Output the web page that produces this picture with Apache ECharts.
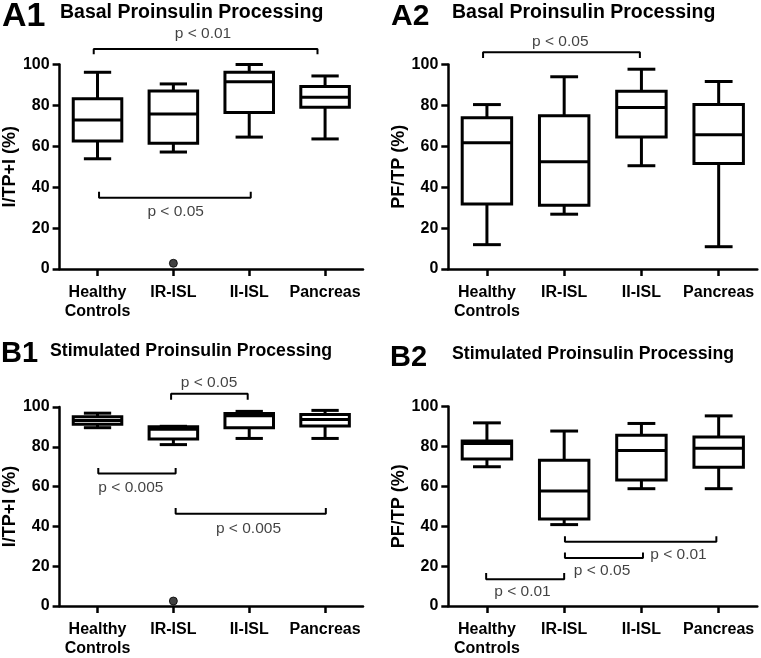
<!DOCTYPE html>
<html><head><meta charset="utf-8">
<script src="https://cdn.jsdelivr.net/npm/echarts@6/dist/echarts.min.js"></script>
<style>html,body{margin:0;padding:0;background:#fff}#c{width:761px;height:658px}</style>
</head><body><div id="c"></div>
<script>
const categories = ['Healthy\nControls', 'IR-ISL', 'II-ISL', 'Pancreas'];
const yTicks = [0, 20, 40, 60, 80, 100];
// each box: [min, Q1, median, Q3, max]
const a1Boxes = [[53.9, 62.6, 72.9, 83.3, 96.2], [57.2, 61.5, 75.8, 87.0, 90.5], [64.5, 76.5, 91.6, 96.2, 100], [63.6, 79.1, 84.0, 89.3, 94.4]];
const a2Boxes = [[11.9, 31.8, 61.7, 74.0, 80.4], [26.8, 31.2, 52.4, 75.0, 94.0], [50.5, 64.6, 79.0, 86.9, 97.7], [10.9, 51.6, 65.6, 80.5, 91.7]];
const b1Boxes = [[89.6, 91.3, 93.2, 95.1, 96.9], [81.1, 83.9, 88.8, 90.1, 90.3], [84.2, 89.6, 95.6, 96.7, 97.8], [84.2, 90.4, 93.7, 96.2, 98.3]];
const b2Boxes = [[69.8, 73.7, 81.4, 82.7, 91.8], [40.8, 43.6, 57.7, 73.0, 87.7], [58.8, 63.1, 77.9, 85.6, 91.5], [58.8, 69.6, 79.1, 84.7, 95.3]];
const a1Outliers = [[1, 2.8]];
const a2Outliers = [];
const b1Outliers = [[1, 2.5]];
const b2Outliers = [];
// significance brackets: [from, to, level, tick end, label, label x, label y]
const a1Brackets = [[-0.05, 2.9, 107.6, 105, 'p < 0.01', 1.39, 115], [0.02, 2.02, 34.9, 37.8, 'p < 0.05', 1.03, 27.8]];
const a2Brackets = [[-0.05, 1.98, 106, 103.2, 'p < 0.05', 0.95, 111]];
const b1Brackets = [[0.97, 1.98, 106.6, 103.6, 'p < 0.05', 1.47, 112.3], [0.01, 1.03, 66.6, 69.4, 'p < 0.005', 0.44, 59.2], [1.03, 3.01, 46.4, 49.2, 'p < 0.005', 1.99, 39]];
const b2Brackets = [[1.01, 2.97, 32.2, 35, 'p < 0.01', 2.48, 25.5], [1.01, 2.02, 24, 26.8, 'p < 0.05', 1.49, 17.8], [-0.01, 1.0, 13.4, 16.5, 'p < 0.01', 0.46, 7.2]];

const FONT = '"Liberation Sans", Arial, Helvetica, sans-serif';
const INK = '#000';

function renderBox(params, api) {
  const idx = api.value(0);
  const bw = api.size([1, 0])[0];
  const half = bw * 0.32, cap = bw * 0.18;
  const p = v => api.coord([idx, v]);
  const pMin = p(api.value(1)), pQ1 = p(api.value(2)), pMed = p(api.value(3)), pQ3 = p(api.value(4)), pMax = p(api.value(5));
  const x = pMin[0];
  const st = { stroke: INK, lineWidth: 3, fill: null };
  return {
    type: 'group', children: [
      { type: 'line', shape: { x1: x, y1: pMax[1], x2: x, y2: pQ3[1] }, style: st },
      { type: 'line', shape: { x1: x, y1: pQ1[1], x2: x, y2: pMin[1] }, style: st },
      { type: 'line', shape: { x1: x - cap, y1: pMax[1], x2: x + cap, y2: pMax[1] }, style: st },
      { type: 'line', shape: { x1: x - cap, y1: pMin[1], x2: x + cap, y2: pMin[1] }, style: st },
      { type: 'rect', shape: { x: x - half, y: pQ3[1], width: 2 * half, height: pQ1[1] - pQ3[1] }, style: { stroke: INK, lineWidth: 3, fill: '#fff' } },
      { type: 'line', shape: { x1: x - half, y1: pMed[1], x2: x + half, y2: pMed[1] }, style: st }
    ]
  };
}

const panels = [
  { grid: { left: 57.5, top: 64.5, width: 305.5, height: 204.5 }, boxes: a1Boxes, outliers: a1Outliers, brackets: a1Brackets, yName: 'I/TP+I (%)', nameGap: 40 },
  { grid: { left: 448.3, top: 64.5, width: 309, height: 204.5 }, boxes: a2Boxes, outliers: a2Outliers, brackets: a2Brackets, yName: 'PF/TP (%)', nameGap: 38 },
  { grid: { left: 57.5, top: 407, width: 305.5, height: 203 }, boxes: b1Boxes, outliers: b1Outliers, brackets: b1Brackets, yName: 'I/TP+I (%)', nameGap: 40 },
  { grid: { left: 448.3, top: 406.5, width: 309, height: 203.5 }, boxes: b2Boxes, outliers: b2Outliers, brackets: b2Brackets, yName: 'PF/TP (%)', nameGap: 38 }
];

const option = {
  animation: false,
  backgroundColor: '#fff',
  textStyle: { fontFamily: FONT },
  title: [
    { text: 'A1', left: 2, top: 0, padding: 0, textStyle: { fontSize: 34, fontWeight: 'bold', color: INK, fontFamily: FONT } },
    { text: 'Basal Proinsulin Processing', left: 60, top: 3, padding: 0, textStyle: { fontSize: 19.5, fontWeight: 'bold', color: INK, fontFamily: FONT } },
    { text: 'A2', left: 391, top: 2, padding: 0, textStyle: { fontSize: 30, fontWeight: 'bold', color: INK, fontFamily: FONT } },
    { text: 'Basal Proinsulin Processing', left: 452, top: 3, padding: 0, textStyle: { fontSize: 19.5, fontWeight: 'bold', color: INK, fontFamily: FONT } },
    { text: 'B1', left: 1, top: 339, padding: 0, textStyle: { fontSize: 29, fontWeight: 'bold', color: INK, fontFamily: FONT } },
    { text: 'Stimulated Proinsulin Processing', left: 50, top: 342, padding: 0, textStyle: { fontSize: 17.7, fontWeight: 'bold', color: INK, fontFamily: FONT } },
    { text: 'B2', left: 390, top: 343, padding: 0, textStyle: { fontSize: 29, fontWeight: 'bold', color: INK, fontFamily: FONT } },
    { text: 'Stimulated Proinsulin Processing', left: 452, top: 345, padding: 0, textStyle: { fontSize: 17.7, fontWeight: 'bold', color: INK, fontFamily: FONT } }
  ],
  grid: [], xAxis: [], yAxis: [], series: []
};

panels.forEach((pn, i) => {
  option.grid.push(Object.assign({ containLabel: false }, pn.grid));
  option.xAxis.push({
    type: 'category', gridIndex: i, data: categories,
    axisLine: { show: true, onZero: false, lineStyle: { color: INK, width: 2.5 } },
    axisTick: { show: true, alignWithLabel: true, length: 7, lineStyle: { color: INK, width: 2.5 } },
    axisLabel: { interval: 0, margin: 14, fontSize: 16, fontWeight: 'bold', color: INK, lineHeight: 19, fontFamily: FONT },
    splitLine: { show: false }
  });
  option.xAxis.push({ type: 'value', gridIndex: i, min: -0.5, max: 3.5, show: false });
  option.yAxis.push({
    type: 'value', gridIndex: i, min: yTicks[0], max: yTicks[yTicks.length - 1], interval: 20,
    name: pn.yName, nameLocation: 'middle', nameGap: pn.nameGap,
    nameTextStyle: { fontSize: 18, fontWeight: 'bold', color: INK, fontFamily: FONT },
    axisLine: { show: true, onZero: false, lineStyle: { color: INK, width: 2.5 } },
    axisTick: { show: true, length: 7, lineStyle: { color: INK, width: 2.5 } },
    axisLabel: { margin: 10, fontSize: 16, fontWeight: 'bold', color: INK, fontFamily: FONT },
    splitLine: { show: false }
  });
  const catX = 2 * i, valX = 2 * i + 1;
  option.series.push({
    type: 'custom', xAxisIndex: catX, yAxisIndex: i, renderItem: renderBox, clip: false,
    encode: { x: 0, y: [1, 2, 3, 4, 5] },
    data: pn.boxes.map((b, k) => [k].concat(b))
  });
  if (pn.outliers.length) {
    option.series.push({
      type: 'scatter', xAxisIndex: catX, yAxisIndex: i, symbol: 'circle', symbolSize: 8,
      itemStyle: { color: '#111', borderColor: INK, borderWidth: 1 }, data: pn.outliers
    });
  }
  pn.brackets.forEach(br => {
    option.series.push({
      type: 'line', xAxisIndex: valX, yAxisIndex: i, symbol: 'none', clip: false, silent: true,
      lineStyle: { color: '#000', width: 2 },
      data: [[br[0], br[3]], [br[0], br[2]], [br[1], br[2]], [br[1], br[3]]]
    });
  });
  option.series.push({
    type: 'scatter', xAxisIndex: valX, yAxisIndex: i, symbolSize: 1, clip: false, silent: true,
    itemStyle: { color: 'rgba(0,0,0,0)' },
    label: { show: true, position: 'inside', formatter: '{b}', fontSize: 15.5, color: '#111', fontFamily: FONT },
    data: pn.brackets.map(br => ({ name: br[4], value: [br[5], br[6]] }))
  });
});

const chart = echarts.init(document.getElementById('c'), null, { renderer: 'canvas' });
chart.setOption(option);
</script>
</body></html>
